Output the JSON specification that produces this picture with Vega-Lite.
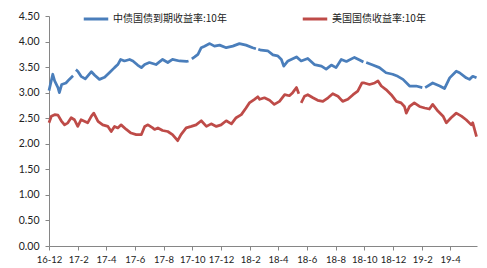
{
  "$schema": "https://vega.github.io/schema/vega-lite/v6.json",
  "width": 428,
  "height": 230,
  "autosize": {"type": "none"},
  "padding": {"left": 49, "top": 16, "right": 10, "bottom": 22},
  "background": "white",
  "config": {
    "view": {"stroke": null},
    "font": "Lato",
    "axis": {"labelFont": "Lato", "labelFontSize": 10.5, "labelColor": "#222", "domainColor": "#868686", "tickColor": "#868686", "grid": false, "title": null}
  },
  "data": {
    "values": [
      {"date": "2016-12-01", "series": "中债国债到期收益率:10年", "value": 3.04},
      {"date": "2016-12-09", "series": "中债国债到期收益率:10年", "value": 3.36},
      {"date": "2016-12-13", "series": "中债国债到期收益率:10年", "value": 3.23},
      {"date": "2016-12-20", "series": "中债国债到期收益率:10年", "value": 3.10},
      {"date": "2016-12-23", "series": "中债国债到期收益率:10年", "value": 3.00},
      {"date": "2016-12-28", "series": "中债国债到期收益率:10年", "value": 3.16},
      {"date": "2017-01-06", "series": "中债国债到期收益率:10年", "value": 3.19},
      {"date": "2017-01-13", "series": "中债国债到期收益率:10年", "value": 3.26},
      {"date": "2017-01-21", "series": "中债国债到期收益率:10年", "value": 3.33},
      {"date": "2017-01-24", "series": "中债国债到期收益率:10年", "value": null},
      {"date": "2017-01-27", "series": "中债国债到期收益率:10年", "value": 3.45},
      {"date": "2017-01-31", "series": "中债国债到期收益率:10年", "value": 3.42},
      {"date": "2017-02-07", "series": "中债国债到期收益率:10年", "value": 3.32},
      {"date": "2017-02-16", "series": "中债国债到期收益率:10年", "value": 3.27},
      {"date": "2017-03-01", "series": "中债国债到期收益率:10年", "value": 3.41},
      {"date": "2017-03-08", "series": "中债国债到期收益率:10年", "value": 3.34},
      {"date": "2017-03-18", "series": "中债国债到期收益率:10年", "value": 3.26},
      {"date": "2017-03-29", "series": "中债国债到期收益率:10年", "value": 3.30},
      {"date": "2017-04-08", "series": "中债国债到期收益率:10年", "value": 3.39},
      {"date": "2017-04-19", "series": "中债国债到期收益率:10年", "value": 3.49},
      {"date": "2017-04-26", "series": "中债国债到期收益率:10年", "value": 3.55},
      {"date": "2017-05-02", "series": "中债国债到期收益率:10年", "value": 3.65},
      {"date": "2017-05-10", "series": "中债国债到期收益率:10年", "value": 3.62},
      {"date": "2017-05-21", "series": "中债国债到期收益率:10年", "value": 3.65},
      {"date": "2017-05-28", "series": "中债国债到期收益率:10年", "value": 3.62},
      {"date": "2017-06-07", "series": "中债国债到期收益率:10年", "value": 3.54},
      {"date": "2017-06-15", "series": "中债国债到期收益率:10年", "value": 3.49},
      {"date": "2017-06-22", "series": "中债国债到期收益率:10年", "value": 3.55},
      {"date": "2017-07-02", "series": "中债国债到期收益率:10年", "value": 3.59},
      {"date": "2017-07-16", "series": "中债国债到期收益率:10年", "value": 3.55},
      {"date": "2017-07-30", "series": "中债国债到期收益率:10年", "value": 3.65},
      {"date": "2017-08-10", "series": "中债国债到期收益率:10年", "value": 3.59},
      {"date": "2017-08-20", "series": "中债国债到期收益率:10年", "value": 3.65},
      {"date": "2017-09-04", "series": "中债国债到期收益率:10年", "value": 3.62},
      {"date": "2017-09-19", "series": "中债国债到期收益率:10年", "value": 3.61},
      {"date": "2017-09-23", "series": "中债国债到期收益率:10年", "value": 3.62},
      {"date": "2017-09-26", "series": "中债国债到期收益率:10年", "value": null},
      {"date": "2017-09-30", "series": "中债国债到期收益率:10年", "value": 3.66},
      {"date": "2017-10-06", "series": "中债国债到期收益率:10年", "value": 3.70},
      {"date": "2017-10-13", "series": "中债国债到期收益率:10年", "value": 3.75},
      {"date": "2017-10-20", "series": "中债国债到期收益率:10年", "value": 3.88},
      {"date": "2017-10-27", "series": "中债国债到期收益率:10年", "value": 3.91},
      {"date": "2017-11-07", "series": "中债国债到期收益率:10年", "value": 3.96},
      {"date": "2017-11-17", "series": "中债国债到期收益率:10年", "value": 3.91},
      {"date": "2017-11-28", "series": "中债国债到期收益率:10年", "value": 3.93},
      {"date": "2017-12-12", "series": "中债国债到期收益率:10年", "value": 3.88},
      {"date": "2017-12-26", "series": "中债国债到期收益率:10年", "value": 3.91},
      {"date": "2018-01-09", "series": "中债国债到期收益率:10年", "value": 3.96},
      {"date": "2018-01-23", "series": "中债国债到期收益率:10年", "value": 3.93},
      {"date": "2018-02-06", "series": "中债国债到期收益率:10年", "value": 3.88},
      {"date": "2018-02-13", "series": "中债国债到期收益率:10年", "value": 3.86},
      {"date": "2018-02-15", "series": "中债国债到期收益率:10年", "value": null},
      {"date": "2018-02-18", "series": "中债国债到期收益率:10年", "value": 3.85},
      {"date": "2018-02-24", "series": "中债国债到期收益率:10年", "value": 3.83},
      {"date": "2018-03-10", "series": "中债国债到期收益率:10年", "value": 3.82},
      {"date": "2018-03-21", "series": "中债国债到期收益率:10年", "value": 3.74},
      {"date": "2018-03-31", "series": "中债国债到期收益率:10年", "value": 3.72},
      {"date": "2018-04-08", "series": "中债国债到期收益率:10年", "value": 3.65},
      {"date": "2018-04-13", "series": "中债国债到期收益率:10年", "value": 3.52},
      {"date": "2018-04-22", "series": "中债国债到期收益率:10年", "value": 3.62},
      {"date": "2018-05-10", "series": "中债国债到期收益率:10年", "value": 3.70},
      {"date": "2018-05-20", "series": "中债国债到期收益率:10年", "value": 3.62},
      {"date": "2018-06-03", "series": "中债国债到期收益率:10年", "value": 3.67},
      {"date": "2018-06-17", "series": "中债国债到期收益率:10年", "value": 3.55},
      {"date": "2018-07-02", "series": "中债国债到期收益率:10年", "value": 3.52},
      {"date": "2018-07-12", "series": "中债国债到期收益率:10年", "value": 3.46},
      {"date": "2018-07-23", "series": "中债国债到期收益率:10年", "value": 3.54},
      {"date": "2018-08-02", "series": "中债国债到期收益率:10年", "value": 3.49},
      {"date": "2018-08-13", "series": "中债国债到期收益率:10年", "value": 3.65},
      {"date": "2018-08-24", "series": "中债国债到期收益率:10年", "value": 3.61},
      {"date": "2018-09-10", "series": "中债国债到期收益率:10年", "value": 3.69},
      {"date": "2018-09-21", "series": "中债国债到期收益率:10年", "value": 3.64},
      {"date": "2018-09-29", "series": "中债国债到期收益率:10年", "value": 3.60},
      {"date": "2018-10-02", "series": "中债国债到期收益率:10年", "value": null},
      {"date": "2018-10-05", "series": "中债国债到期收益率:10年", "value": 3.59},
      {"date": "2018-10-19", "series": "中债国债到期收益率:10年", "value": 3.54},
      {"date": "2018-11-02", "series": "中债国债到期收益率:10年", "value": 3.49},
      {"date": "2018-11-16", "series": "中债国债到期收益率:10年", "value": 3.39},
      {"date": "2018-11-30", "series": "中债国债到期收益率:10年", "value": 3.36},
      {"date": "2018-12-11", "series": "中债国债到期收益率:10年", "value": 3.32},
      {"date": "2018-12-22", "series": "中债国债到期收益率:10年", "value": 3.26},
      {"date": "2019-01-05", "series": "中债国债到期收益率:10年", "value": 3.13},
      {"date": "2019-01-19", "series": "中债国债到期收益率:10年", "value": 3.13},
      {"date": "2019-02-01", "series": "中债国债到期收益率:10年", "value": 3.10},
      {"date": "2019-02-04", "series": "中债国债到期收益率:10年", "value": null},
      {"date": "2019-02-07", "series": "中债国债到期收益率:10年", "value": 3.10},
      {"date": "2019-02-23", "series": "中债国债到期收益率:10年", "value": 3.19},
      {"date": "2019-03-10", "series": "中债国债到期收益率:10年", "value": 3.13},
      {"date": "2019-03-20", "series": "中债国债到期收益率:10年", "value": 3.08},
      {"date": "2019-03-31", "series": "中债国债到期收益率:10年", "value": 3.29},
      {"date": "2019-04-14", "series": "中债国债到期收益率:10年", "value": 3.42},
      {"date": "2019-04-21", "series": "中债国债到期收益率:10年", "value": 3.39},
      {"date": "2019-05-05", "series": "中债国债到期收益率:10年", "value": 3.29},
      {"date": "2019-05-12", "series": "中债国债到期收益率:10年", "value": 3.26},
      {"date": "2019-05-19", "series": "中债国债到期收益率:10年", "value": 3.32},
      {"date": "2019-05-27", "series": "中债国债到期收益率:10年", "value": 3.29},

      {"date": "2016-12-01", "series": "美国国债收益率:10年", "value": 2.41},
      {"date": "2016-12-06", "series": "美国国债收益率:10年", "value": 2.54},
      {"date": "2016-12-13", "series": "美国国债收益率:10年", "value": 2.57},
      {"date": "2016-12-20", "series": "美国国债收益率:10年", "value": 2.56},
      {"date": "2016-12-27", "series": "美国国债收益率:10年", "value": 2.45},
      {"date": "2017-01-03", "series": "美国国债收益率:10年", "value": 2.37},
      {"date": "2017-01-10", "series": "美国国债收益率:10年", "value": 2.41},
      {"date": "2017-01-17", "series": "美国国债收益率:10年", "value": 2.51},
      {"date": "2017-01-24", "series": "美国国债收益率:10年", "value": 2.47},
      {"date": "2017-01-31", "series": "美国国债收益率:10年", "value": 2.34},
      {"date": "2017-02-07", "series": "美国国债收益率:10年", "value": 2.47},
      {"date": "2017-02-14", "series": "美国国债收益率:10年", "value": 2.44},
      {"date": "2017-02-21", "series": "美国国债收益率:10年", "value": 2.41},
      {"date": "2017-03-01", "series": "美国国债收益率:10年", "value": 2.54},
      {"date": "2017-03-06", "series": "美国国债收益率:10年", "value": 2.60},
      {"date": "2017-03-15", "series": "美国国债收益率:10年", "value": 2.44},
      {"date": "2017-03-25", "series": "美国国债收益率:10年", "value": 2.37},
      {"date": "2017-04-05", "series": "美国国债收益率:10年", "value": 2.34},
      {"date": "2017-04-12", "series": "美国国债收益率:10年", "value": 2.24},
      {"date": "2017-04-19", "series": "美国国债收益率:10年", "value": 2.34},
      {"date": "2017-04-26", "series": "美国国债收益率:10年", "value": 2.31},
      {"date": "2017-05-03", "series": "美国国债收益率:10年", "value": 2.37},
      {"date": "2017-05-14", "series": "美国国债收益率:10年", "value": 2.28},
      {"date": "2017-05-24", "series": "美国国债收益率:10年", "value": 2.21},
      {"date": "2017-06-04", "series": "美国国债收益率:10年", "value": 2.18},
      {"date": "2017-06-15", "series": "美国国债收益率:10年", "value": 2.18},
      {"date": "2017-06-22", "series": "美国国债收益率:10年", "value": 2.34},
      {"date": "2017-06-29", "series": "美国国债收益率:10年", "value": 2.37},
      {"date": "2017-07-09", "series": "美国国债收益率:10年", "value": 2.31},
      {"date": "2017-07-13", "series": "美国国债收益率:10年", "value": 2.28},
      {"date": "2017-07-20", "series": "美国国债收益率:10年", "value": 2.31},
      {"date": "2017-07-30", "series": "美国国债收益率:10年", "value": 2.26},
      {"date": "2017-08-10", "series": "美国国债收益率:10年", "value": 2.24},
      {"date": "2017-08-20", "series": "美国国债收益率:10年", "value": 2.18},
      {"date": "2017-08-31", "series": "美国国债收益率:10年", "value": 2.06},
      {"date": "2017-09-07", "series": "美国国债收益率:10年", "value": 2.18},
      {"date": "2017-09-18", "series": "美国国债收益率:10年", "value": 2.31},
      {"date": "2017-09-29", "series": "美国国债收益率:10年", "value": 2.34},
      {"date": "2017-10-09", "series": "美国国债收益率:10年", "value": 2.37},
      {"date": "2017-10-20", "series": "美国国债收益率:10年", "value": 2.45},
      {"date": "2017-10-31", "series": "美国国债收益率:10年", "value": 2.34},
      {"date": "2017-11-10", "series": "美国国债收益率:10年", "value": 2.39},
      {"date": "2017-11-21", "series": "美国国债收益率:10年", "value": 2.34},
      {"date": "2017-12-01", "series": "美国国债收益率:10年", "value": 2.37},
      {"date": "2017-12-12", "series": "美国国债收益率:10年", "value": 2.45},
      {"date": "2017-12-23", "series": "美国国债收益率:10年", "value": 2.39},
      {"date": "2018-01-02", "series": "美国国债收益率:10年", "value": 2.51},
      {"date": "2018-01-13", "series": "美国国债收益率:10年", "value": 2.57},
      {"date": "2018-01-23", "series": "美国国债收益率:10年", "value": 2.70},
      {"date": "2018-01-30", "series": "美国国债收益率:10年", "value": 2.80},
      {"date": "2018-02-10", "series": "美国国债收益率:10年", "value": 2.87},
      {"date": "2018-02-17", "series": "美国国债收益率:10年", "value": 2.92},
      {"date": "2018-02-21", "series": "美国国债收益率:10年", "value": 2.87},
      {"date": "2018-03-03", "series": "美国国债收益率:10年", "value": 2.90},
      {"date": "2018-03-14", "series": "美国国债收益率:10年", "value": 2.85},
      {"date": "2018-03-24", "series": "美国国债收益率:10年", "value": 2.77},
      {"date": "2018-04-04", "series": "美国国债收益率:10年", "value": 2.83},
      {"date": "2018-04-15", "series": "美国国债收益率:10年", "value": 2.96},
      {"date": "2018-04-25", "series": "美国国债收益率:10年", "value": 2.94},
      {"date": "2018-05-02", "series": "美国国债收益率:10年", "value": 3.00},
      {"date": "2018-05-10", "series": "美国国债收益率:10年", "value": 3.10},
      {"date": "2018-05-15", "series": "美国国债收益率:10年", "value": 2.98},
      {"date": "2018-05-17", "series": "美国国债收益率:10年", "value": null},
      {"date": "2018-05-20", "series": "美国国债收益率:10年", "value": 2.80},
      {"date": "2018-05-27", "series": "美国国债收益率:10年", "value": 2.93},
      {"date": "2018-06-03", "series": "美国国债收益率:10年", "value": 2.96},
      {"date": "2018-06-14", "series": "美国国债收益率:10年", "value": 2.90},
      {"date": "2018-06-24", "series": "美国国债收益率:10年", "value": 2.85},
      {"date": "2018-07-05", "series": "美国国债收益率:10年", "value": 2.83},
      {"date": "2018-07-16", "series": "美国国债收益率:10年", "value": 2.90},
      {"date": "2018-07-26", "series": "美国国债收益率:10年", "value": 2.98},
      {"date": "2018-08-06", "series": "美国国债收益率:10年", "value": 2.93},
      {"date": "2018-08-16", "series": "美国国债收益率:10年", "value": 2.83},
      {"date": "2018-08-27", "series": "美国国债收益率:10年", "value": 2.87},
      {"date": "2018-09-07", "series": "美国国债收益率:10年", "value": 2.96},
      {"date": "2018-09-17", "series": "美国国债收益率:10年", "value": 3.03},
      {"date": "2018-09-26", "series": "美国国债收益率:10年", "value": 3.19},
      {"date": "2018-10-01", "series": "美国国债收益率:10年", "value": 3.19},
      {"date": "2018-10-12", "series": "美国国债收益率:10年", "value": 3.16},
      {"date": "2018-10-23", "series": "美国国债收益率:10年", "value": 3.19},
      {"date": "2018-10-30", "series": "美国国债收益率:10年", "value": 3.23},
      {"date": "2018-11-06", "series": "美国国债收益率:10年", "value": 3.13},
      {"date": "2018-11-16", "series": "美国国债收益率:10年", "value": 3.06},
      {"date": "2018-11-27", "series": "美国国债收益率:10年", "value": 2.96},
      {"date": "2018-12-08", "series": "美国国债收益率:10年", "value": 2.83},
      {"date": "2018-12-18", "series": "美国国债收益率:10年", "value": 2.80},
      {"date": "2018-12-25", "series": "美国国债收益率:10年", "value": 2.73},
      {"date": "2018-12-29", "series": "美国国债收益率:10年", "value": 2.60},
      {"date": "2019-01-05", "series": "美国国债收益率:10年", "value": 2.73},
      {"date": "2019-01-15", "series": "美国国债收益率:10年", "value": 2.80},
      {"date": "2019-01-26", "series": "美国国债收益率:10年", "value": 2.73},
      {"date": "2019-02-06", "series": "美国国债收益率:10年", "value": 2.70},
      {"date": "2019-02-16", "series": "美国国债收益率:10年", "value": 2.68},
      {"date": "2019-02-23", "series": "美国国债收益率:10年", "value": 2.77},
      {"date": "2019-03-06", "series": "美国国债收益率:10年", "value": 2.64},
      {"date": "2019-03-17", "series": "美国国债收益率:10年", "value": 2.54},
      {"date": "2019-03-24", "series": "美国国债收益率:10年", "value": 2.41},
      {"date": "2019-04-03", "series": "美国国债收益率:10年", "value": 2.51},
      {"date": "2019-04-14", "series": "美国国债收益率:10年", "value": 2.60},
      {"date": "2019-04-25", "series": "美国国债收益率:10年", "value": 2.54},
      {"date": "2019-05-05", "series": "美国国债收益率:10年", "value": 2.47},
      {"date": "2019-05-16", "series": "美国国债收益率:10年", "value": 2.37},
      {"date": "2019-05-19", "series": "美国国债收益率:10年", "value": 2.41},
      {"date": "2019-05-27", "series": "美国国债收益率:10年", "value": 2.14}
    ]
  },
  "mark": {"type": "line", "strokeWidth": 2.75, "invalid": "break-paths-filter-domains", "strokeJoin": "round"},
  "encoding": {
    "x": {
      "field": "date",
      "type": "temporal",
      "scale": {"type": "utc", "domain": [{"year": 2016, "month": 12, "date": 1, "utc": true}, {"year": 2019, "month": 5, "date": 28, "utc": true}]},
      "axis": {
        "format": "%y-%-m",
        "values": [
          {"year": 2016, "month": 12, "date": 1, "utc": true},
          {"year": 2017, "month": 2, "date": 1, "utc": true},
          {"year": 2017, "month": 4, "date": 1, "utc": true},
          {"year": 2017, "month": 6, "date": 1, "utc": true},
          {"year": 2017, "month": 8, "date": 1, "utc": true},
          {"year": 2017, "month": 10, "date": 1, "utc": true},
          {"year": 2017, "month": 12, "date": 1, "utc": true},
          {"year": 2018, "month": 2, "date": 1, "utc": true},
          {"year": 2018, "month": 4, "date": 1, "utc": true},
          {"year": 2018, "month": 6, "date": 1, "utc": true},
          {"year": 2018, "month": 8, "date": 1, "utc": true},
          {"year": 2018, "month": 10, "date": 1, "utc": true},
          {"year": 2018, "month": 12, "date": 1, "utc": true},
          {"year": 2019, "month": 2, "date": 1, "utc": true},
          {"year": 2019, "month": 4, "date": 1, "utc": true}
        ],
        "tickSize": 4,
        "labelPadding": 4,
        "labelFontSize": 9.5,
        "labelOverlap": false,
        "labelFlush": false
      }
    },
    "y": {
      "field": "value",
      "type": "quantitative",
      "scale": {"domain": [0, 4.5], "nice": false, "zero": true},
      "axis": {"values": [0, 0.5, 1, 1.5, 2, 2.5, 3, 3.5, 4, 4.5], "format": ".2f", "tickSize": 4, "labelPadding": 6}
    },
    "color": {
      "field": "series",
      "type": "nominal",
      "scale": {"domain": ["中债国债到期收益率:10年", "美国国债收益率:10年"], "range": ["#4A7EBB", "#BE4B48"]},
      "legend": {
        "title": null,
        "orient": "none",
        "legendX": 33,
        "legendY": -11,
        "direction": "horizontal",
        "symbolType": "stroke",
        "symbolSize": 600,
        "symbolStrokeWidth": 3,
        "labelFont": "Noto Sans CJK SC",
        "labelFontSize": 10,
        "labelColor": "#222",
        "labelOffset": 3,
        "columnPadding": 69,
        "labelLimit": 300
      }
    }
  }
}
